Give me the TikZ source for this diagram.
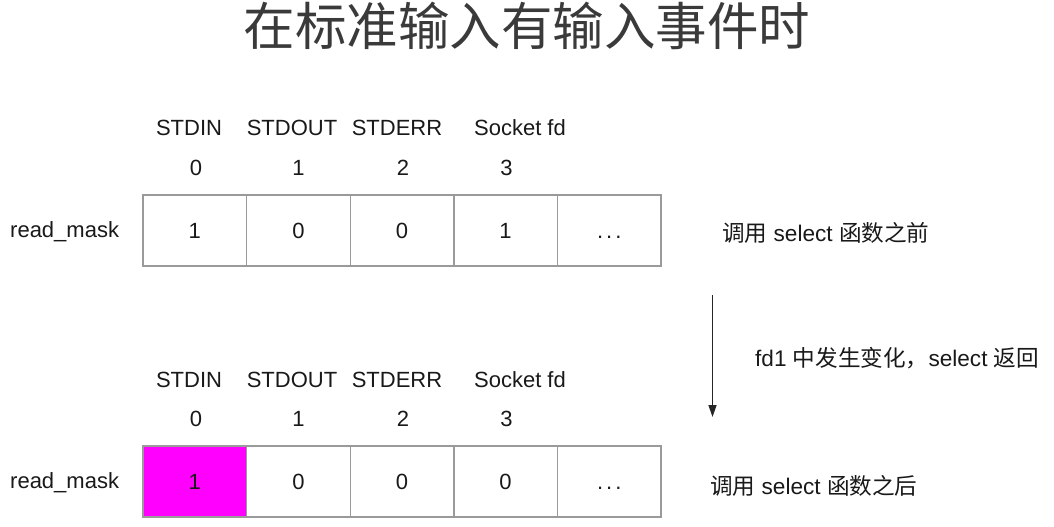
\documentclass[tikz,border=0pt]{standalone}
\usepackage{fontspec}
\setmainfont{Liberation Sans}
\newfontfamily\cjk{Noto Sans CJK SC}
\usetikzlibrary{arrows.meta}
\definecolor{cellline}{HTML}{9A9A9A}
\definecolor{titlegray}{HTML}{3A3A3A}
\definecolor{hl}{HTML}{FF00FF}
\begin{document}
\begin{tikzpicture}[x=1pt,y=-1pt,
  cell/.style={draw=cellline, line width=1.4pt, minimum width=103.6pt, minimum height=71pt, inner sep=0pt, font=\fontsize{22}{26}\selectfont, text=black!90, text height=15.8pt, text depth=0pt},
  lbl/.style={font=\fontsize{22}{26}\selectfont, text=black!90, inner sep=0pt},
  note/.style={font=\fontsize{22.6}{27}\selectfont, text=black!90, inner sep=0pt, anchor=west},
  flow/.style={draw=black!85, line width=1.3pt, -{Triangle[length=12pt,width=8pt]}}]
\useasboundingbox (0,0) rectangle (1054,527);
\fill[white] (0,0) rectangle (1054,527);
% title
\node[font=\fontsize{51.5}{58}\selectfont\cjk, text=titlegray, inner sep=0pt] (title) at (527,26) {在标准输入有输入事件时};
% top row headers
\node[lbl] (h0) at (189,128) {STDIN};
\node[lbl] (h1) at (292,128) {STDOUT};
\node[lbl] (h2) at (397,128) {STDERR};
\node[lbl] (h3) at (520,128) {Socket fd};
\node[lbl] (n0) at (196,168) {0};
\node[lbl] (n1) at (298.4,168) {1};
\node[lbl] (n2) at (403,168) {2};
\node[lbl] (n3) at (506.5,168) {3};
\node[lbl, anchor=west] (rm1) at (10,232) {read\_mask};
\node[cell] (t0) at (194.8,230.5) {1};
\node[cell] (t1) at (298.4,230.5) {0};
\node[cell] (t2) at (402,230.5) {0};
\node[cell] (t3) at (505.6,230.5) {1};
\node[cell] (t4) at (609.2,230.5) {.\hspace{3pt}.\hspace{3pt}.};
\node[note] (before) at (722,233) {{\cjk 调用} select {\cjk 函数之前}};
% arrow
\coordinate (a1) at (712.5,295);
\coordinate (a2) at (712.5,417);
\draw[flow] (a1) -- (a2);
\node[note] (change) at (755,358) {fd1 {\cjk 中发生变化，}select {\cjk 返回}};
% bottom row headers
\node[lbl] (g0) at (189,380) {STDIN};
\node[lbl] (g1) at (292,380) {STDOUT};
\node[lbl] (g2) at (397,380) {STDERR};
\node[lbl] (g3) at (520,380) {Socket fd};
\node[lbl] (m0) at (196,419) {0};
\node[lbl] (m1) at (298.4,419) {1};
\node[lbl] (m2) at (403,419) {2};
\node[lbl] (m3) at (506.5,419) {3};
\node[lbl, anchor=west] (rm2) at (10,483) {read\_mask};
\node[cell, fill=hl] (b0) at (194.8,481.5) {1};
\node[cell] (b1) at (298.4,481.5) {0};
\node[cell] (b2) at (402,481.5) {0};
\node[cell] (b3) at (505.6,481.5) {0};
\node[cell] (b4) at (609.2,481.5) {.\hspace{3pt}.\hspace{3pt}.};
\node[note] (after) at (710,486) {{\cjk 调用} select {\cjk 函数之后}};
\end{tikzpicture}
\end{document}
